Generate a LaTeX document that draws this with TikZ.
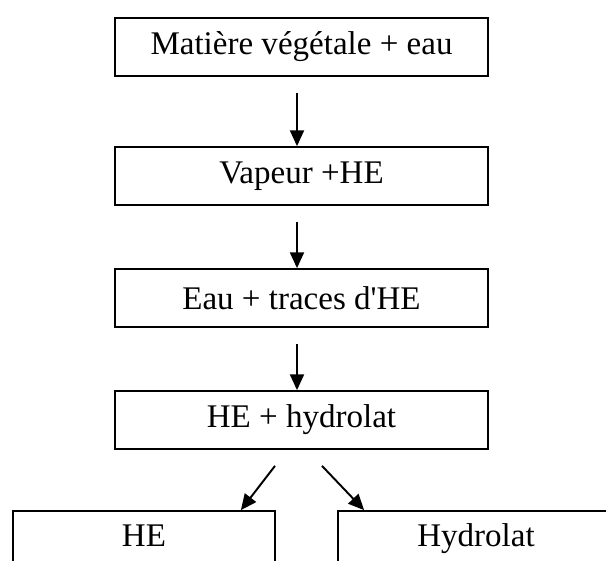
\documentclass[tikz,border=0pt]{standalone}
\usepackage{fontspec}
\setmainfont{Liberation Serif}
\usetikzlibrary{calc}
\usetikzlibrary{positioning}
\usetikzlibrary{arrows.meta}

\begin{document}
\begin{tikzpicture}[%
  x=0.02cm, y=-0.02cm,
  >={Triangle[length=9pt, width=8pt]},
  etape/.style={draw, line width=1pt, minimum width=373*0.02cm,
    minimum height=58*0.02cm, inner sep=0pt,
    font=\fontsize{18.8}{22}\selectfont},
  sortie/.style={etape, minimum height=62*0.02cm,
    text height=0.69em, text depth=0.22em},
  fleche/.style={->, line width=1.1pt},
]

  \useasboundingbox (0,0) rectangle (606,561);
  \clip (0,0) rectangle (606,561);

  \node[etape] (mat) at (301.5, 47) {Matière végétale + eau};
  \node[etape] (vap) at (301.5, 176) {Vapeur +HE};
  \node[etape] (eau) at (301.5, 298) {Eau + traces d\textquotesingle HE};
  \node[etape] (mix) at (301.5, 420) {HE + hydrolat};

  \node[sortie, minimum width=262*0.02cm] (he) at (144, 542) {HE};
  \node[sortie, minimum width=276*0.02cm] (hyd) at (476, 542) {Hydrolat};

  \draw[fleche] ([shift={(-4.5,16)}]mat.south) -- ([shift={(-4.5,0)}]vap.north);
  \draw[fleche] ([shift={(-4.5,16)}]vap.south) -- ([shift={(-4.5,0)}]eau.north);
  \draw[fleche] ([shift={(-4.5,16)}]eau.south) -- ([shift={(-4.5,0)}]mix.north);

  \draw[fleche] ([shift={(-26.5,16)}]mix.south) -- ([shift={(-35,0)}]he.north east);
  \draw[fleche] ([shift={(20.5,16)}]mix.south) -- ([shift={(27,0)}]hyd.north west);

\end{tikzpicture}
\end{document}
